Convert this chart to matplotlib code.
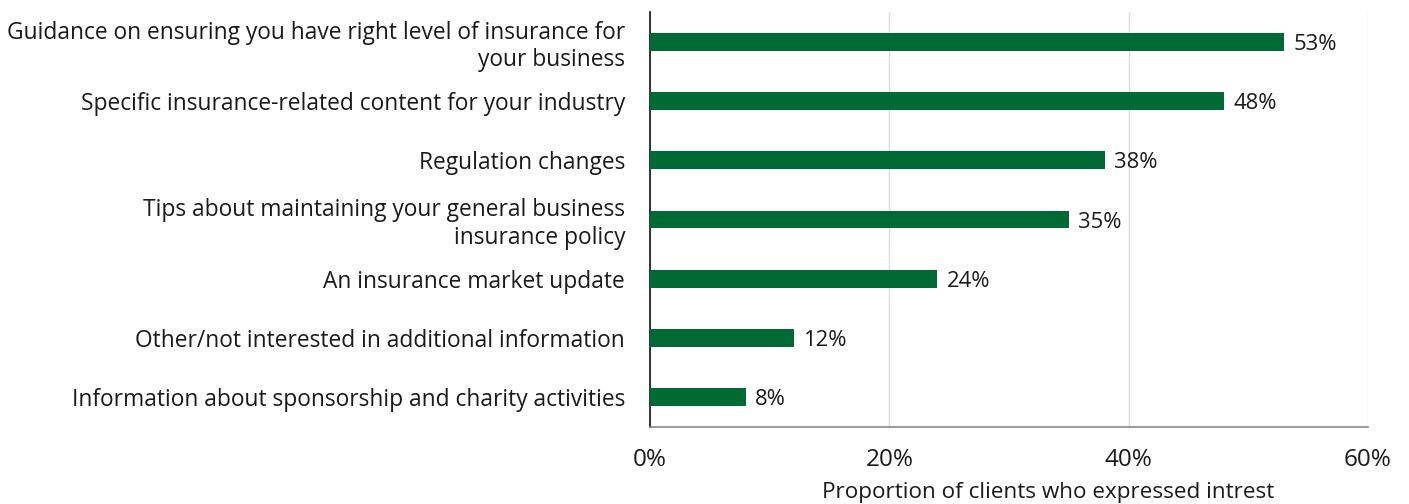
import matplotlib.pyplot as plt

plt.rcParams['font.family'] = ['Open Sans', 'DejaVu Sans']

# data (top to bottom)
categories = [
    'Guidance on ensuring you have right level of insurance for\nyour business',
    'Specific insurance-related content for your industry',
    'Regulation changes',
    'Tips about maintaining your general business\ninsurance policy',
    'An insurance market update',
    'Other/not interested in additional information',
    'Information about sponsorship and charity activities',
]
values = [53, 48, 38, 35, 24, 12, 8]
xticks = [0, 20, 40, 60]

W, H = 1409, 504
fig = plt.figure(figsize=(W / 100, H / 100), dpi=100)
ax = fig.add_axes([650 / W, 1 - 427 / H, 718 / W, 415 / H])

green = '#006a35'
txt = '#1a1a1a'
ypos = list(range(len(categories)))
ax.barh(ypos, values, height=0.3, color=green, zorder=3)
for y, v in zip(ypos, values):
    ax.text(v + 0.8, y, '{}%'.format(v), va='center_baseline', ha='left',
            fontsize=15.8, color=txt)

ax.set_ylim(len(categories) - 0.5, -0.5)
ax.set_xlim(0, 60)
ax.set_yticks(ypos)
ax.set_yticklabels(categories, fontsize=16.4, color=txt, linespacing=1.18)
ax.set_xticks(xticks)
ax.set_xticklabels(['{}%'.format(t) for t in xticks], fontsize=17.5, color=txt)
ax.tick_params(axis='both', length=0)
ax.tick_params(axis='x', pad=15)
ax.tick_params(axis='y', pad=18)

ax.grid(axis='x', color='#dddddd', linewidth=1, zorder=0)
for s in ['top', 'right']:
    ax.spines[s].set_visible(False)
ax.spines['left'].set_color('#111111')
ax.spines['left'].set_linewidth(1.2)
ax.spines['bottom'].set_color('#888888')
ax.spines['bottom'].set_linewidth(1.2)

ax.text(0.554, -0.158, 'Proportion of clients who expressed intrest',
        transform=ax.transAxes, ha='center', va='center', fontsize=16.2,
        color=txt)

fig.savefig('out.png', dpi=100)
